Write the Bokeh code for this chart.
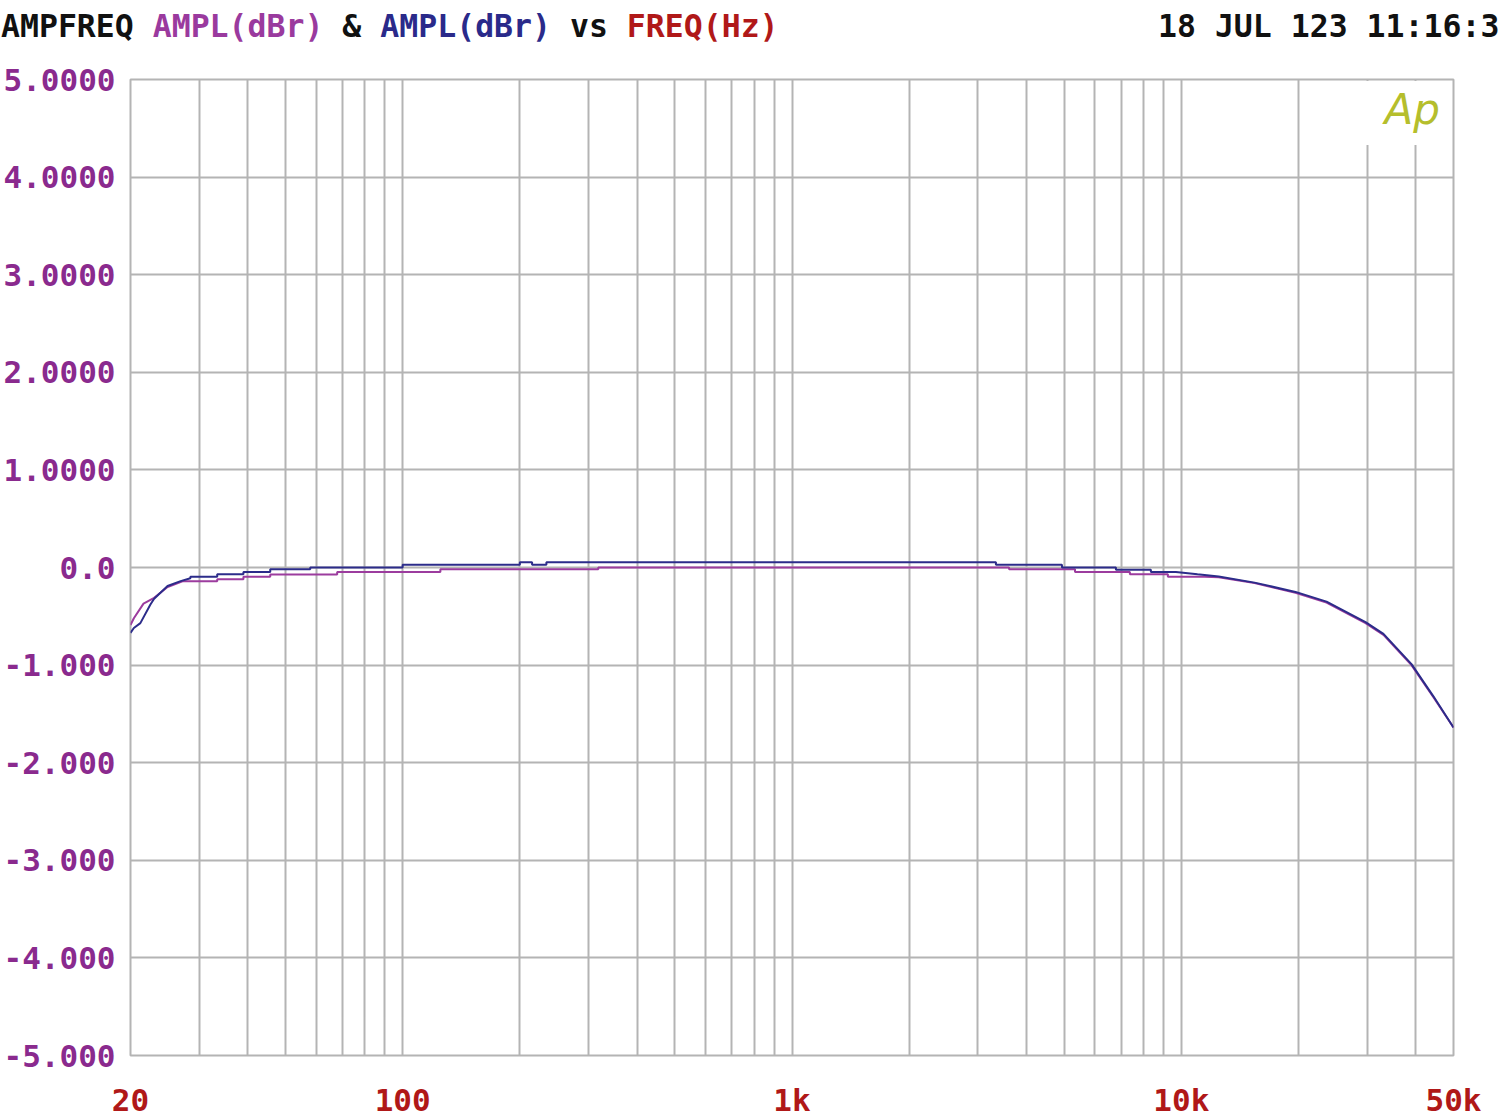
import html as _html
from bokeh.plotting import figure
from bokeh.models import FixedTicker, Label, Range1d, Div
from bokeh.layouts import column
from bokeh.embed import file_html
from bokeh.resources import INLINE

# ---- data ----
blue_freq = [20, 20.4, 21.2, 22.5, 23.0, 24.9, 26.9, 28.5,
             28.5, 33.4, 33.4, 39, 39, 45.7, 45.7, 57.9, 57.9, 100,
             100, 200, 200, 215, 215, 234, 234, 3340, 3340, 4936,
             4936, 6792, 6792, 8352, 8352, 9680, 11000, 12470, 15420,
             19640, 23600, 29720, 33040, 39000, 44400, 50000]
blue_db = [-0.67, -0.62, -0.57, -0.38, -0.32, -0.19, -0.14, -0.11,
           -0.095, -0.095, -0.07, -0.07, -0.047, -0.047, -0.018, -0.018, 0.0, 0.0,
           0.027, 0.027, 0.054, 0.054, 0.027, 0.027, 0.054, 0.054, 0.027, 0.027,
           0.0, 0.0, -0.024, -0.024, -0.045, -0.045, -0.07, -0.093, -0.155,
           -0.25, -0.35, -0.56, -0.68, -0.99, -1.32, -1.64]

purple_freq = [20, 20.4, 21.6, 23.0, 24.9, 27.3,
               33.4, 33.4, 39, 39, 45.7, 45.7, 67.9, 67.9, 125,
               125, 318, 318, 3610, 3610, 5332, 5332, 7376, 7376, 9234,
               9234, 11480, 12470, 15420, 19640, 23600, 29720, 33040,
               39000, 44400, 50000]
purple_db = [-0.59, -0.52, -0.37, -0.31, -0.20, -0.14,
             -0.14, -0.12, -0.12, -0.095, -0.095, -0.071, -0.071, -0.047, -0.047,
             -0.018, -0.018, 0.0, 0.0, -0.018, -0.018, -0.045, -0.045, -0.068, -0.068,
             -0.095, -0.095, -0.10, -0.16, -0.26, -0.36, -0.57, -0.69,
             -1.0, -1.33, -1.64]

x_grid = [20, 30, 40, 50, 60, 70, 80, 90,
          100, 200, 300, 400, 500, 600, 700, 800, 900,
          1000, 2000, 3000, 4000, 5000, 6000, 7000, 8000, 9000,
          10000, 20000, 30000, 40000, 50000]
x_ticks = [20, 100, 1000, 10000, 50000]
x_tick_labels = ["20", "100", "1k", "10k", "50k"]
y_ticks = [5, 4, 3, 2, 1, 0, -1, -2, -3, -4, -5]
y_tick_labels = ["5.0000", "4.0000", "3.0000", "2.0000", "1.0000", "0.0",
                 "-1.000", "-2.000", "-3.000", "-4.000", "-5.000"]

title_parts = ["AMPFREQ ", "AMPL(dBr)", " & ", "AMPL(dBr)", " vs ", "FREQ(Hz)"]
title_colors = ["#111111", "#9a3a9e", "#111111", "#2a2a8a", "#111111", "#b01818"]
date_text = "18 JUL 123 11:16:3"

# ---- styling ----
MONO = "DejaVu Sans Mono"
FS = 31.5
GRID = "#b4b4b4"
PURPLE = "#9c3c9e"
BLUE = "#2c2c8a"

W = 1500
TOP_H = 50
MAIN_H = 1120 - TOP_H

# ---- header (title texts) ----
spans = "".join(f'<span style="color:{c}">{_html.escape(t)}</span>'
                for t, c in zip(title_parts, title_colors))
head_html = (
    f'<div style="position:relative;width:{W}px;height:{TOP_H}px;'
    f"font-family:'{MONO}';font-weight:bold;font-size:{FS}px;"
    f'line-height:{FS}px;white-space:pre;background:white;">'
    f'<div style="position:absolute;left:1px;top:11px;">{spans}</div>'
    f'<div style="position:absolute;left:1158px;top:11px;color:#111111;">'
    f'{_html.escape(date_text)}</div></div>'
)
hdr = Div(text=head_html, width=W, height=TOP_H, margin=(0, 0, 0, 0))

# ---- main chart ----
p = figure(width=W, height=MAIN_H, x_axis_type="log",
           x_range=Range1d(20, 50000), y_range=Range1d(-5, 5),
           output_backend="svg", toolbar_location=None,
           min_border_left=128, min_border_right=47,
           min_border_top=29, min_border_bottom=62)
p.background_fill_color = "white"
p.border_fill_color = "white"
p.outline_line_color = GRID
p.outline_line_width = 2

p.xgrid.ticker = FixedTicker(ticks=x_grid)
p.ygrid.ticker = FixedTicker(ticks=y_ticks)
for g in (p.xgrid, p.ygrid):
    g.grid_line_color = GRID
    g.grid_line_width = 2

xa = p.xaxis[0]
xa.ticker = FixedTicker(ticks=x_ticks)
xa.major_label_overrides = {t: l for t, l in zip(x_ticks, x_tick_labels)}
ya = p.yaxis[0]
ya.ticker = FixedTicker(ticks=y_ticks)
ya.major_label_overrides = {t: l for t, l in zip(y_ticks, y_tick_labels)}
for ax in (xa, ya):
    ax.axis_line_color = None
    ax.major_tick_line_color = None
    ax.minor_tick_line_color = None
    ax.major_tick_out = 0
    ax.minor_tick_out = 0
    ax.major_label_text_font = MONO
    ax.major_label_text_font_style = "bold"
xa.major_label_text_font_size = "31px"
xa.major_label_text_color = "#b01818"
xa.major_label_standoff = 26
ya.major_label_text_font_size = "31px"
ya.major_label_text_color = "#8a2a8e"
ya.major_label_standoff = 15

# mask gridlines behind the logo
p.quad(left=[22500], right=[49000], bottom=[4.33], top=[4.985],
       fill_color="white", line_color=None)

p.line(purple_freq, purple_db, line_color=PURPLE, line_width=2)
p.line(blue_freq, blue_db, line_color=BLUE, line_width=2)

p.add_layout(Label(x=1254, y=946, x_units="screen", y_units="screen", text="Ap",
                   text_font="DejaVu Sans", text_font_style="italic",
                   text_font_size="42px", text_color="#b5be2c",
                   text_baseline="alphabetic"))

layout = column(hdr, p, spacing=0)
open("out.html", "w").write(file_html(layout, INLINE))
